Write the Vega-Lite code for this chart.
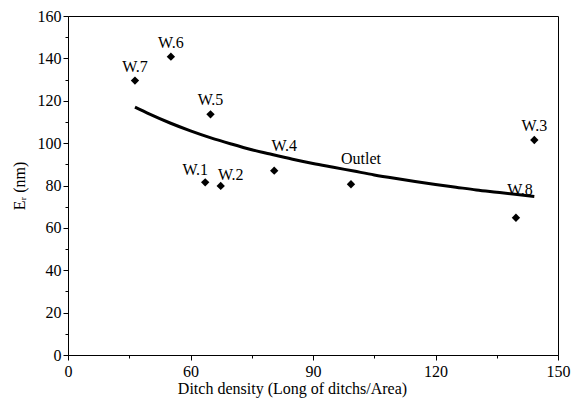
{
  "$schema": "https://vega.github.io/schema/vega-lite/v6.json",
  "width": 490,
  "height": 339,
  "autosize": {"type": "none"},
  "padding": {"left": 68, "top": 16, "right": 16, "bottom": 43},
  "background": "white",
  "config": {
    "view": {"stroke": "black", "strokeWidth": 1},
    "font": "Liberation Serif",
    "axis": {
      "domainColor": "black",
      "tickColor": "black",
      "labelColor": "black",
      "titleColor": "black",
      "labelFont": "Liberation Serif",
      "titleFont": "Liberation Serif",
      "labelFontSize": 16,
      "titleFontSize": 16,
      "titleFontWeight": "normal",
      "grid": false
    }
  },
  "datasets": {
    "sites": [
      {"site": "W.7", "density": 46.4, "er": 129.5},
      {"site": "W.6", "density": 55.2, "er": 140.8},
      {"site": "W.5", "density": 64.9, "er": 113.6},
      {"site": "W.1", "density": 63.6, "er": 81.5},
      {"site": "W.2", "density": 67.4, "er": 79.8},
      {"site": "W.4", "density": 80.5, "er": 87.0},
      {"site": "Outlet", "density": 99.3, "er": 80.6},
      {"site": "W.8", "density": 139.7, "er": 64.8},
      {"site": "W.3", "density": 144.2, "er": 101.5}
    ],
    "fit": [
      {"density": 46.4, "er": 117.0},
      {"density": 50, "er": 113.7},
      {"density": 55, "er": 109.5},
      {"density": 60, "er": 105.8},
      {"density": 65, "er": 102.5},
      {"density": 70, "er": 99.6},
      {"density": 75, "er": 96.9},
      {"density": 80, "er": 94.6},
      {"density": 85, "er": 92.4},
      {"density": 90, "er": 90.4},
      {"density": 95, "er": 88.6},
      {"density": 100, "er": 86.8},
      {"density": 105, "er": 85.0},
      {"density": 110, "er": 83.4},
      {"density": 115, "er": 81.9},
      {"density": 120, "er": 80.5},
      {"density": 125, "er": 79.2},
      {"density": 130, "er": 77.9},
      {"density": 135, "er": 76.8},
      {"density": 140, "er": 75.7},
      {"density": 144.2, "er": 74.8}
    ]
  },
  "encoding": {
    "x": {
      "field": "density",
      "type": "quantitative",
      "scale": {"domain": [30, 150], "nice": false, "zero": false},
      "axis": {
        "title": "Ditch density (Long of ditchs/Area)",
        "titleX": 224,
        "values": [30, 45, 60, 75, 90, 105, 120, 135, 150],
        "labelExpr": "datum.value == 30 ? '0' : (datum.value % 30 == 0 ? datum.label : '')",
        "tickSize": {"condition": {"test": "datum.value % 30 != 0", "value": 3}, "value": 5},
        "labelPadding": 3,
        "titlePadding": 1,
        "labelFlush": false,
        "labelOverlap": false
      }
    },
    "y": {
      "field": "er",
      "type": "quantitative",
      "scale": {"domain": [0, 160], "nice": false},
      "axis": {
        "title": "Eᵣ (nm)",
        "values": [0, 10, 20, 30, 40, 50, 60, 70, 80, 90, 100, 110, 120, 130, 140, 150, 160],
        "labelExpr": "datum.value % 20 == 0 ? datum.label : ''",
        "tickSize": {"condition": {"test": "datum.value % 20 != 0", "value": 3}, "value": 5},
        "labelPadding": 2,
        "titlePadding": 10,
        "labelOverlap": false,
        "labelFlush": false
      }
    }
  },
  "layer": [
    {
      "data": {"name": "sites"},
      "mark": {"type": "point", "shape": "diamond", "filled": true, "color": "black", "size": 70, "opacity": 1}
    },
    {
      "data": {"name": "sites"},
      "transform": [{"filter": "indexof(['W.7','W.6','W.5','W.3'], datum.site) >= 0"}],
      "mark": {"type": "text", "fontSize": 16, "font": "Liberation Serif", "color": "black", "dy": -9, "baseline": "alphabetic"},
      "encoding": {"text": {"field": "site"}}
    },
    {
      "data": {"name": "sites"},
      "transform": [{"filter": "datum.site == 'W.1'"}],
      "mark": {"type": "text", "fontSize": 16, "font": "Liberation Serif", "color": "black", "dx": -10, "dy": -7, "baseline": "alphabetic"},
      "encoding": {"text": {"field": "site"}}
    },
    {
      "data": {"name": "sites"},
      "transform": [{"filter": "datum.site == 'W.2'"}],
      "mark": {"type": "text", "fontSize": 16, "font": "Liberation Serif", "color": "black", "dx": 10, "dy": -6, "baseline": "alphabetic"},
      "encoding": {"text": {"field": "site"}}
    },
    {
      "data": {"name": "sites"},
      "transform": [{"filter": "datum.site == 'W.4' || datum.site == 'Outlet'"}],
      "mark": {"type": "text", "fontSize": 16, "font": "Liberation Serif", "color": "black", "dx": 10, "dy": -20, "baseline": "alphabetic"},
      "encoding": {"text": {"field": "site"}}
    },
    {
      "data": {"name": "sites"},
      "transform": [{"filter": "datum.site == 'W.8'"}],
      "mark": {"type": "text", "fontSize": 16, "font": "Liberation Serif", "color": "black", "dx": 4, "dy": -23, "baseline": "alphabetic"},
      "encoding": {"text": {"field": "site"}}
    },
    {
      "data": {"name": "fit"},
      "mark": {"type": "line", "color": "black", "strokeWidth": 3, "interpolate": "monotone"},
      "encoding": {}
    }
  ]
}
